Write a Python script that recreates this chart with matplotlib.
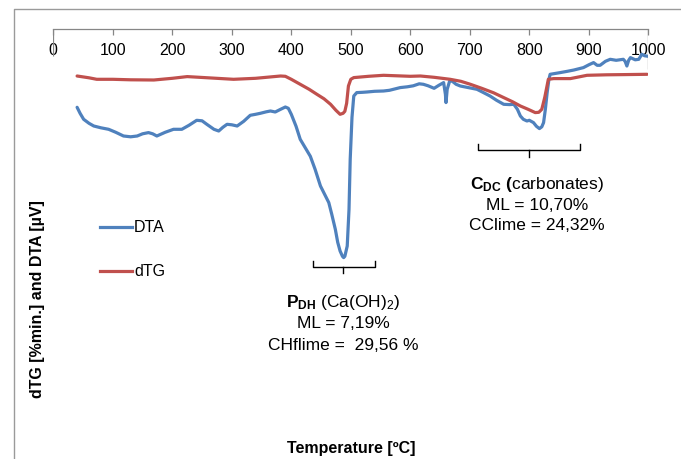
import matplotlib
matplotlib.use("Agg")
import matplotlib.pyplot as plt
from matplotlib.lines import Line2D

plt.rcParams['font.family'] = ['Liberation Sans', 'DejaVu Sans']
plt.rcParams['mathtext.fontset'] = 'custom'
plt.rcParams['mathtext.rm'] = 'Liberation Sans'
plt.rcParams['mathtext.bf'] = 'Liberation Sans:bold'
plt.rcParams['mathtext.it'] = 'Liberation Sans:italic'

# ---- data (arbitrary signal units) ----
dta_temp = [40, 45, 51, 60, 68, 80, 93, 105, 118, 130, 141, 150, 160, 167, 174, 188, 202, 216, 228, 241,
            250, 258, 270, 278, 285, 292, 300, 309, 320, 331, 340, 348, 358, 365, 373, 382, 390, 395, 400, 408,
            415, 425, 432, 440, 449, 456, 463, 468, 474, 478, 482, 486, 488, 490, 494, 497, 499, 502, 505, 510,
            520, 527, 540, 555, 565, 575, 583, 595, 605, 615, 622, 630, 640, 648, 656, 659, 660, 662, 666, 670,
            677, 684, 695, 712, 722, 734, 745, 757, 767, 774, 780, 785, 790, 796, 800, 807, 812, 817, 821, 824,
            827, 830, 833, 835, 845, 852, 864, 875, 883, 891, 900, 908, 914, 919, 928, 936, 946, 958, 961, 964,
            967, 970, 978, 984, 989, 994, 1000]
dta_values = [-78, -84, -90, -94, -96.7, -98.5, -100, -103, -106.7, -107.5, -106.7, -104.5, -103.3, -104.5, -106.7,
              -103, -100, -100, -96, -91, -91.5, -95, -100, -101.7, -98, -95, -95.5, -96.7, -92, -86, -85, -84,
              -82.5, -81.7, -82.7, -80, -77.7, -79, -85, -97, -110, -120, -127, -140, -156.7, -165, -173.3, -185,
              -200, -213, -221.7, -227, -228.3, -227, -216.7, -180, -130, -88, -66.7, -63.3, -63, -62.7, -62,
              -61.7, -61, -59.5, -58.3, -57.5, -56.5, -54.5, -55, -56.5, -59, -56, -53.3, -65, -73.3, -60, -52,
              -51.7, -55, -56.7, -58, -60, -63, -66.7, -71, -75, -75.3, -75, -80, -86.7, -90, -91.7, -91, -93.3,
              -97, -99.3, -97.5, -93.3, -80, -63.3, -50, -45, -44, -43.3, -42, -40.7, -39.5, -38.3, -35.5, -33.3,
              -36, -36, -32, -30, -31, -30, -32, -36.7, -31, -28.3, -30.5, -30, -25, -26.5, -27]

dtg_temp = [40, 60, 73, 100, 130, 169, 200, 225, 260, 303, 340, 382, 390, 400, 415, 430, 443, 455, 466, 475,
            482, 487, 490, 493, 496, 500, 505, 530, 555, 600, 617, 640, 667, 685, 701, 720, 740, 757, 772, 785,
            798, 810, 816, 821, 826, 830, 832, 841, 869, 897, 930, 960, 998]
dtg_values = [-46.7, -48.5, -50, -50, -50.5, -50.7, -49, -47.3, -48.5, -50, -49, -46.7, -47, -50, -55, -60, -65,
              -69.5, -75, -81, -85, -84, -82, -74, -56.7, -50, -48.3, -47, -46, -47, -46.7, -48, -50, -52, -55,
              -59, -63.5, -68.3, -72.5, -76.7, -80, -83.3, -83, -80, -68, -56, -50, -49.3, -49.3, -46, -45.5,
              -45.3, -45]

x_ticks = [0, 100, 200, 300, 400, 500, 600, 700, 800, 900, 1000]
series_names = ["DTA", "dTG"]
colors = ["#4F81BD", "#C0504D"]

W, H = 681, 459
fig = plt.figure(figsize=(W / 100, H / 100), dpi=100)

def fx(px):
    return px / W

def fy(py):
    return 1 - py / H

top_px, bot_px = 29.3, 440
ax = fig.add_axes([fx(53.3), fy(bot_px), fx(648.3) - fx(53.3), fy(top_px) - fy(bot_px)])
ax.set_xlim(0, 1000)
ax.set_ylim(-410.7, 0)

l1, = ax.plot(dta_temp, dta_values, color=colors[0], lw=2.3, solid_joinstyle='round', solid_capstyle='round')
l2, = ax.plot(dtg_temp, dtg_values, color=colors[1], lw=2.3, solid_joinstyle='round', solid_capstyle='round')

for s in ['left', 'right', 'bottom']:
    ax.spines[s].set_visible(False)
ax.spines['top'].set_color('#868686')
ax.spines['top'].set_linewidth(0.9)
ax.set_yticks([])
ax.set_xticks(x_ticks)
ax.set_xticklabels([str(t) for t in x_ticks])
ax.tick_params(axis='x', top=True, bottom=False, labeltop=True, labelbottom=False,
               direction='in', length=4, width=0.9, color='#868686', pad=-21, labelsize=11.5)
ax.vlines([0], -27, 0, color='#868686', lw=0.9)
ax.vlines([1000], -40, 0, color='#868686', lw=0.9)
ax.patch.set_visible(False)

# outer frame (top + left)
fig.add_artist(Line2D([fx(13.5), fx(13.5), fx(681)], [fy(459), fy(9.3), fy(9.3)],
                      transform=fig.transFigure, color='#9a9a9a', lw=1.0))

# legend
fig.add_artist(Line2D([fx(100), fx(132)], [fy(227), fy(227)], transform=fig.transFigure, color=colors[0], lw=2.3))
fig.add_artist(Line2D([fx(100), fx(132)], [fy(270.5), fy(270.5)], transform=fig.transFigure, color=colors[1], lw=2.3))
fig.text(fx(134), fy(227.5), series_names[0], fontsize=11.5, va='center', ha='left')
fig.text(fx(134), fy(271), series_names[1], fontsize=11.5, va='center', ha='left')

# axis labels
fig.text(fx(38), fy(299), "dTG [%min.] and DTA [µV]", rotation=90, fontsize=11.5, fontweight='bold',
         ha='center', va='center')
fig.text(fx(351), fy(449), "Temperature [ºC]", fontsize=11.5, fontweight='bold', ha='center', va='center')

# brackets
def bracket(x0, x1, xm, yh, ycap, ytick):
    fig.add_artist(Line2D([fx(x0), fx(x0), fx(x1), fx(x1)], [fy(ycap), fy(yh), fy(yh), fy(ycap)],
                          transform=fig.transFigure, color='black', lw=1.0))
    fig.add_artist(Line2D([fx(xm), fx(xm)], [fy(yh), fy(ytick)], transform=fig.transFigure, color='black', lw=1.0))

bracket(312.7, 375, 343.3, 266.5, 260.5, 273)
bracket(478.3, 580, 529.3, 150, 144.3, 157)

fs = 12.5
fig.text(fx(343), fy(303), r"$\mathbf{P_{DH}}$ (Ca(OH)$_{2}$)", fontsize=fs, ha='center', va='center')
fig.text(fx(343), fy(324), "ML = 7,19%", fontsize=fs, ha='center', va='center')
fig.text(fx(343), fy(345), "CHflime =  29,56 %", fontsize=fs, ha='center', va='center')

fig.text(fx(537), fy(184), r"$\mathbf{C_{DC}}$ $\mathbf{(}$carbonates)", fontsize=fs, ha='center', va='center')
fig.text(fx(537), fy(205), "ML = 10,70%", fontsize=fs, ha='center', va='center')
fig.text(fx(537), fy(225), "CClime = 24,32%", fontsize=fs, ha='center', va='center')

fig.savefig("out.png", dpi=100)
